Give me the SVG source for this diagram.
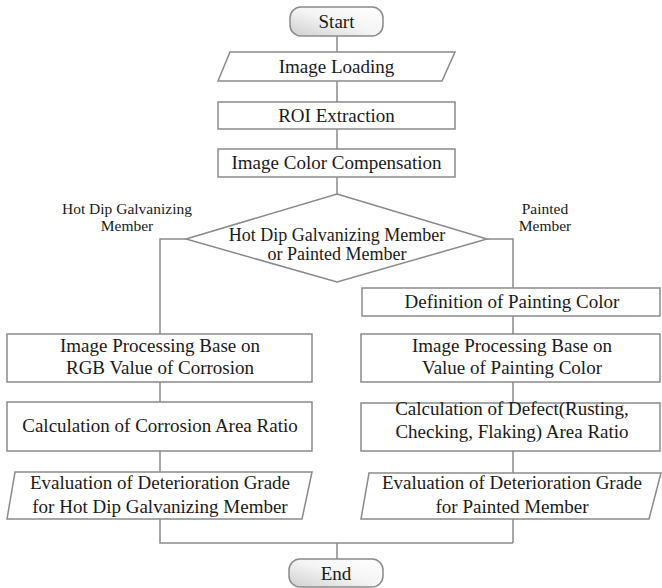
<svg xmlns="http://www.w3.org/2000/svg" width="662" height="588" viewBox="0 0 662 588">
<style>
.shape{fill:#fff;stroke:#8a8a8a;stroke-width:1.5}
.term{fill:url(#g);stroke:#8a8a8a;stroke-width:1.5}
.conn{fill:none;stroke:#8a8a8a;stroke-width:1.5}
text{font-family:"Liberation Serif","Times New Roman",serif;fill:#1a1a1a;text-anchor:middle}
.t{font-size:19px}
.d{font-size:18px}
.s{font-size:15.5px}
</style>
<defs>
<linearGradient id="g" x1="1" y1="0" x2="0" y2="1">
<stop offset="0" stop-color="#ffffff"/>
<stop offset="0.5" stop-color="#f4f4f4"/>
<stop offset="1" stop-color="#cfcfcf"/>
</linearGradient>
</defs>
<g id="connectors">
<path class="conn" d="M337 36V52M337 81V102M337 129V149M337 177V194"/>
<path class="conn" d="M186 239H160V334"/>
<path class="conn" d="M487 239H513V288"/>
<path class="conn" d="M160 382V402M160 451V472M160 519V543H513"/>
<path class="conn" d="M513 316V334M513 382V403M513 451V473M513 519V543"/>
<path class="conn" d="M337 543V559"/>
</g>
<g id="start"><rect class="term" x="290" y="7" width="93" height="29" rx="11"/><text class="t" x="336.5" y="28">Start</text></g>
<g id="loading"><polygon class="shape" points="230,52 455,52 442,81 218,81"/><text class="t" x="336.5" y="73">Image Loading</text></g>
<g id="roi"><rect class="shape" x="218" y="102" width="237" height="27"/><text class="t" x="336.5" y="122">ROI Extraction</text></g>
<g id="compensation"><rect class="shape" x="218" y="149" width="237" height="28"/><text class="t" x="336.5" y="169">Image Color Compensation</text></g>
<g id="decision"><polygon class="shape" points="337,194 487,239 337,282 186,239"/><text class="d" x="337" y="241">Hot Dip Galvanizing Member</text><text class="d" x="337" y="260">or Painted Member</text></g>
<g id="label-hdg"><text class="s" x="127" y="214">Hot Dip Galvanizing</text><text class="s" x="127" y="231">Member</text></g>
<g id="label-painted"><text class="s" x="545" y="214">Painted</text><text class="s" x="545" y="231">Member</text></g>
<g id="definition"><rect class="shape" x="362" y="288" width="298" height="28"/><text class="t" x="512" y="308">Definition of Painting Color</text></g>
<g id="proc-left"><rect class="shape" x="7" y="334" width="305" height="48"/><text class="t" x="160" y="352">Image Processing Base on</text><text class="t" x="160" y="374">RGB Value of Corrosion</text></g>
<g id="proc-right"><rect class="shape" x="361" y="334" width="299" height="48"/><text class="t" x="512" y="352">Image Processing Base on</text><text class="t" x="512" y="374">Value of Painting Color</text></g>
<g id="calc-left"><rect class="shape" x="7" y="402" width="305" height="49"/><text class="t" x="160" y="432">Calculation of Corrosion Area Ratio</text></g>
<g id="calc-right"><rect class="shape" x="361" y="403" width="299" height="48"/><text class="t" x="512" y="415">Calculation of Defect(Rusting,</text><text class="t" x="512" y="438">Checking, Flaking) Area Ratio</text></g>
<g id="eval-left"><polygon class="shape" points="15,472 312,472 302,519 7,519"/><text class="t" x="160" y="489">Evaluation of Deterioration Grade</text><text class="t" x="160" y="513">for Hot Dip Galvanizing Member</text></g>
<g id="eval-right"><polygon class="shape" points="369,473 661,473 649,519 361,519"/><text class="t" x="512" y="489">Evaluation of Deterioration Grade</text><text class="t" x="512" y="513">for Painted Member</text></g>
<g id="end"><rect class="term" x="289" y="559" width="94" height="28" rx="11"/><text class="t" x="336" y="580">End</text></g>
</svg>
